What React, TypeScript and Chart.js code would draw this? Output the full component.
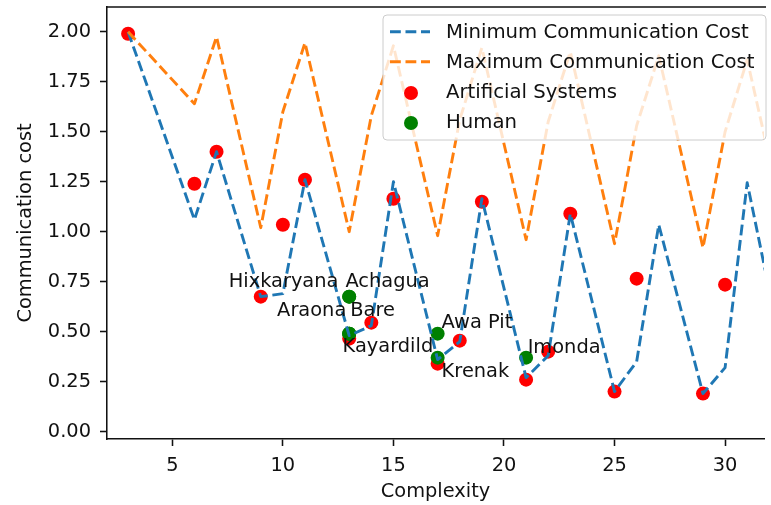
import { useEffect, useRef } from "react";
import { Chart, registerables } from "chart.js";

Chart.register(...registerables);

// Lower and upper bounds of the communication cost, by complexity
const BOUND_X = [3, 6, 7, 9, 10, 11, 13, 14, 15, 17, 18, 19, 21, 22, 23, 25, 26, 27, 29, 30, 31, 33];
const MIN_COST = [2.0, 1.06, 1.4, 0.675, 0.69, 1.26, 0.48, 0.53, 1.25, 0.36, 0.45, 1.165, 0.27, 0.38, 1.09, 0.2, 0.35, 1.035, 0.19, 0.32, 1.245, 0.17];
const MAX_COST = [2.0, 1.64, 1.975, 1.02, 1.6, 1.945, 1.0, 1.58, 1.93, 0.98, 1.56, 1.92, 0.96, 1.55, 1.9, 0.94, 1.53, 1.88, 0.92, 1.5, 1.86, 0.88];

// Artificial systems
const ART_X = [3, 6, 7, 9, 10, 11, 13, 14, 15, 17, 18, 19, 21, 22, 23, 25, 26, 29, 30];
const ART_COST = [1.99, 1.24, 1.4, 0.675, 1.035, 1.26, 0.465, 0.545, 1.165, 0.34, 0.455, 1.15, 0.26, 0.4, 1.09, 0.2, 0.765, 0.19, 0.735];

// Human languages
const HUMAN_NAMES = ["Hixkaryana", "Achagua", "Araona", "Bare", "Kayardild", "Awa Pit", "Krenak", "Imonda"];
const HUMAN_X = [13, 13, 13, 13, 13, 17, 17, 21];
const HUMAN_COST = [0.675, 0.675, 0.49, 0.49, 0.49, 0.49, 0.37, 0.37];

// Where each language name is written (data coordinates, left/baseline)
const NAME_AT_X = [7.55, 12.83, 9.74, 13.05, 12.7, 17.18, 17.18, 21.07];
const NAME_AT_Y = [0.725, 0.725, 0.58, 0.58, 0.397, 0.516, 0.273, 0.392];

const X_TICKS = [5, 10, 15, 20, 25, 30];
const Y_TICKS = [0, 0.25, 0.5, 0.75, 1.0, 1.25, 1.5, 1.75, 2.0];

const FONT = "DejaVu Sans";
const FS = 19.4;
const DASH = [10.8, 4.7];

const zip = (xs: number[], ys: number[]) => xs.map((x, i) => ({ x, y: ys[i] }));

const decorPlugin = {
  id: "decor",
  afterDatasetsDraw(chart: any) {
    const { ctx, scales } = chart;
    ctx.save();
    ctx.font = `${FS}px "${FONT}"`;
    ctx.fillStyle = "#111";
    ctx.textBaseline = "alphabetic";
    ctx.textAlign = "left";
    HUMAN_NAMES.forEach((name, i) => {
      ctx.fillText(name, scales.x.getPixelForValue(NAME_AT_X[i]), scales.y.getPixelForValue(NAME_AT_Y[i]));
    });
    ctx.restore();
  },
  afterDraw(chart: any) {
    const { ctx, chartArea } = chart;
    ctx.save();
    // top spine
    ctx.strokeStyle = "#111";
    ctx.lineWidth = 1.55;
    ctx.beginPath();
    ctx.moveTo(chartArea.left - 0.8, chartArea.top);
    ctx.lineTo(chartArea.right + 2, chartArea.top);
    ctx.stroke();

    // legend
    const L = 383, T = 15, R = 766, B = 140, rad = 4;
    ctx.beginPath();
    ctx.moveTo(L + rad, T);
    ctx.arcTo(R, T, R, B, rad);
    ctx.arcTo(R, B, L, B, rad);
    ctx.arcTo(L, B, L, T, rad);
    ctx.arcTo(L, T, R, T, rad);
    ctx.closePath();
    ctx.fillStyle = "rgba(255,255,255,0.8)";
    ctx.fill();
    ctx.strokeStyle = "#cccccc";
    ctx.lineWidth = 1;
    ctx.stroke();

    const ds = chart.data.datasets;
    const baselines = [38, 68, 98, 128];
    ds.forEach((d: any, i: number) => {
      const by = baselines[i];
      if (d.showLine === false) {
        ctx.beginPath();
        ctx.arc(411, by - 5, 7, 0, Math.PI * 2);
        ctx.fillStyle = d.backgroundColor;
        ctx.fill();
      } else {
        ctx.beginPath();
        ctx.setLineDash(DASH);
        ctx.strokeStyle = d.borderColor;
        ctx.lineWidth = 2.9;
        ctx.moveTo(390, by - 6.3);
        ctx.lineTo(430, by - 6.3);
        ctx.stroke();
        ctx.setLineDash([]);
      }
      ctx.font = `${FS + 0.3}px "${FONT}"`;
      ctx.fillStyle = "#111";
      ctx.textBaseline = "alphabetic";
      ctx.textAlign = "left";
      ctx.fillText(d.label, 446, by);
    });
    ctx.restore();
  },
};

export default function App() {
  const canvasRef = useRef<HTMLCanvasElement | null>(null);

  useEffect(() => {
    if (!canvasRef.current) return;
    const tickFont = { family: FONT, size: FS };
    const chart = new Chart(canvasRef.current, {
      type: "line",
      data: {
        datasets: [
          {
            label: "Minimum Communication Cost",
            data: zip(BOUND_X, MIN_COST),
            borderColor: "#1f77b4",
            backgroundColor: "#1f77b4",
            borderWidth: 2.9,
            borderDash: DASH,
            borderJoinStyle: "round",
            pointRadius: 0,
            tension: 0,
            order: 1,
          },
          {
            label: "Maximum Communication Cost",
            data: zip(BOUND_X, MAX_COST),
            borderColor: "#ff7f0e",
            backgroundColor: "#ff7f0e",
            borderWidth: 2.9,
            borderDash: DASH,
            borderJoinStyle: "round",
            pointRadius: 0,
            tension: 0,
            order: 0,
          },
          {
            type: "scatter",
            label: "Artificial Systems",
            data: zip(ART_X, ART_COST),
            showLine: false,
            backgroundColor: "#ff0000",
            borderColor: "#ff0000",
            borderWidth: 0,
            pointRadius: 7,
            order: 3,
          },
          {
            type: "scatter",
            label: "Human",
            data: zip(HUMAN_X, HUMAN_COST),
            showLine: false,
            backgroundColor: "#008000",
            borderColor: "#008000",
            borderWidth: 0,
            pointRadius: 7,
            order: 2,
          },
        ] as any,
      },
      options: {
        animation: false,
        responsive: false,
        devicePixelRatio: 1,
        layout: { padding: { top: 4, right: 0, left: 0, bottom: 0 } },
        plugins: { legend: { display: false }, tooltip: { enabled: false } },
        scales: {
          x: {
            type: "linear",
            min: 2.046,
            max: 31.76,
            afterFit: (s: any) => {
              s.height = 66;
              s.paddingLeft = 0;
              s.paddingRight = 0;
            },
            afterBuildTicks: (s: any) => {
              s.ticks = X_TICKS.map((value) => ({ value }));
            },
            ticks: {
              font: tickFont,
              color: "#111",
              padding: 8.5,
              maxRotation: 0,
              autoSkip: false,
              callback: (v: any) => String(v),
            },
            grid: {
              display: true,
              drawOnChartArea: false,
              drawTicks: true,
              tickLength: 7,
              tickWidth: 1.55,
              tickColor: "#111",
            },
            border: { display: true, color: "#111", width: 1.55 },
            title: {
              display: true,
              text: "Complexity",
              font: tickFont,
              color: "#111",
              padding: { top: 0, bottom: 1.2 },
            },
          },
          y: {
            type: "linear",
            min: -0.037,
            max: 2.124,
            afterFit: (s: any) => {
              s.width = 107;
              s.paddingTop = 0;
              s.paddingBottom = 0;
            },
            afterBuildTicks: (s: any) => {
              s.ticks = Y_TICKS.map((value) => ({ value }));
            },
            ticks: {
              font: tickFont,
              color: "#111",
              padding: 9,
              autoSkip: false,
              callback: (v: any) => Number(v).toFixed(2),
            },
            grid: {
              display: true,
              drawOnChartArea: false,
              drawTicks: true,
              tickLength: 7,
              tickWidth: 1.55,
              tickColor: "#111",
            },
            border: { display: true, color: "#111", width: 1.55 },
            title: {
              display: true,
              text: "Communication cost",
              font: tickFont,
              color: "#111",
              padding: { top: 14.6, bottom: 0 },
            },
          },
        },
      } as any,
      plugins: [decorPlugin],
    });
    return () => chart.destroy();
  }, []);

  return (
    <div style={{ position: "fixed", left: 0, top: 0, width: 771, height: 505, background: "#fff" }}>
      <canvas ref={canvasRef} width={771} height={505} style={{ display: "block" }} />
    </div>
  );
}
